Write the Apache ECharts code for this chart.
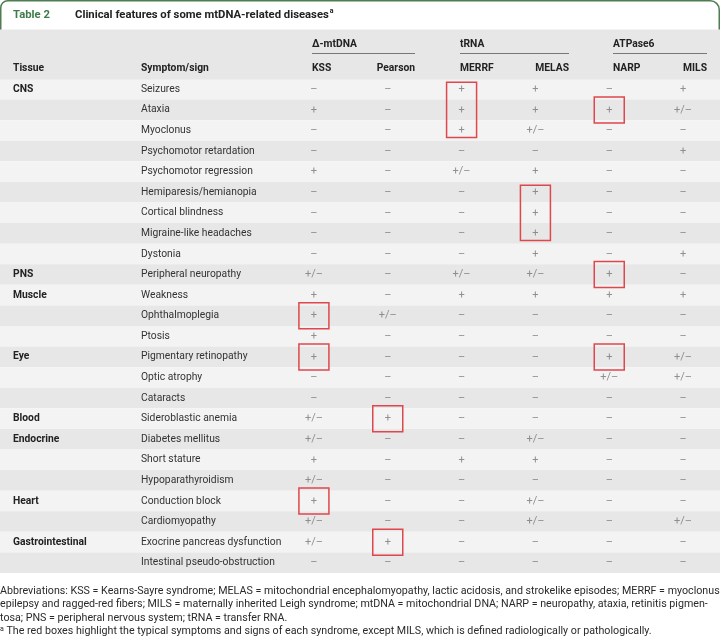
<!DOCTYPE html>
<html>
<head>
<meta charset="utf-8">
<script src="https://cdn.jsdelivr.net/npm/echarts@6/dist/echarts.min.js"></script>
<style>html,body{margin:0;padding:0;background:#fff}#c{width:720px;height:636px}</style>
</head>
<body>
<div id="c"></div>
<script>
// ---------- data ----------
var tissues = ['CNS','','','','','','','','','PNS','Muscle','','','Eye','','','Blood','Endocrine','','','Heart','','Gastrointestinal',''];
var symptoms = ['Seizures','Ataxia','Myoclonus','Psychomotor retardation','Psychomotor regression','Hemiparesis/hemianopia','Cortical blindness','Migraine-like headaches','Dystonia','Peripheral neuropathy','Weakness','Ophthalmoplegia','Ptosis','Pigmentary retinopathy','Optic atrophy','Cataracts','Sideroblastic anemia','Diabetes mellitus','Short stature','Hypoparathyroidism','Conduction block','Cardiomyopathy','Exocrine pancreas dysfunction','Intestinal pseudo-obstruction'];
var diseases = ['KSS','Pearson','MERRF','MELAS','NARP','MILS'];
var groups = ['Δ-mtDNA','tRNA','ATPase6'];
var P = '+', M = '–', PM = '+/–';
var kss     = [M,P,M,M,P,M,M,M,M,PM,P,P,P,P,M,M,PM,PM,P,PM,P,PM,PM,M];
var pearson = [M,M,M,M,M,M,M,M,M,M,M,PM,M,M,M,M,P,M,M,M,M,M,P,M];
var merrf   = [P,P,P,M,PM,M,M,M,M,PM,P,M,M,M,M,M,M,M,P,M,M,M,M,M];
var melas   = [P,P,PM,M,P,P,P,P,P,PM,P,M,M,M,M,M,M,PM,P,M,PM,PM,M,M];
var narp    = [M,P,M,M,M,M,M,M,M,P,P,M,M,P,PM,M,M,M,M,M,M,M,M,M];
var mils    = [P,PM,M,P,M,M,M,M,P,M,P,M,M,PM,PM,M,M,M,M,M,M,PM,M,M];
// highlighted boxes: [column index, first row, last row]
var boxes = [[2,0,2],[4,1,1],[3,5,7],[4,9,9],[0,11,11],[0,13,13],[4,13,13],[1,16,16],[0,20,20],[1,22,22]];
var footnotes = [
  'Abbreviations: KSS = Kearns-Sayre syndrome; MELAS = mitochondrial encephalomyopathy, lactic acidosis, and strokelike episodes; MERRF = myoclonus',
  'epilepsy and ragged-red fibers; MILS = maternally inherited Leigh syndrome; mtDNA = mitochondrial DNA; NARP = neuropathy, ataxia, retinitis pigmen-',
  'tosa; PNS = peripheral nervous system; tRNA = transfer RNA.',
  '{sup|a} The red boxes highlight the typical symptoms and signs of each syndrome, except MILS, which is defined radiologically or pathologically.'
];

// ---------- build ----------
var FONT = 'Roboto';
var cols = [kss, pearson, merrf, melas, narp, mils];
var cells = [];
cols.forEach(function (arr, ci) {
  arr.forEach(function (v, ri) { cells.push([ci, ri, v]); });
});

var TOP = 79, BOTTOM = 63;
var chart = echarts.init(document.getElementById('c'), null, {renderer: 'canvas'});

var hdrY1 = 44, hdrY2 = 68;
var headerText = [
  {x: 13, t: 'Tissue', a: 'left'},
  {x: 141, t: 'Symptom/sign', a: 'left'},
  {x: 312, t: diseases[0], a: 'left'},
  {x: 415, t: diseases[1], a: 'right'},
  {x: 460, t: diseases[2], a: 'left'},
  {x: 569, t: diseases[3], a: 'right'},
  {x: 613, t: diseases[4], a: 'left'},
  {x: 707, t: diseases[5], a: 'right'}
];
var groupPos = [[312, 415], [460, 569], [613, 707]];

var graphics = [
  {type: 'rect', z: 0, shape: {x: 0.75, y: 0.75, width: 718.5, height: 60, r: [7, 9, 0, 0]},
   style: {fill: '#fff', stroke: '#4f7d52', lineWidth: 1.5}},
  {type: 'rect', z: 1, shape: {x: 0, y: 29.5, width: 720, height: 50}, style: {fill: '#e7e7e7'}},
  {type: 'text', z: 2, x: 13, y: 15, style: {text: 'Table 2', font: 'bold 11.3px ' + FONT, fill: '#3f7b4a', verticalAlign: 'middle'}},
  {type: 'text', z: 2, x: 75, y: 15, style: {text: 'Clinical features of some mtDNA-related diseases{sup|a}', font: 'bold 11.3px ' + FONT, fill: '#222', verticalAlign: 'middle',
    rich: {sup: {fontSize: 7, fontFamily: FONT, fontWeight: 'bold', fill: '#222', verticalAlign: 'top', padding: [0,0,7,1]}}}}
];
headerText.forEach(function (h) {
  graphics.push({type: 'text', z: 2, x: h.x, y: hdrY2, style: {text: h.t, font: 'bold 10.3px ' + FONT, fill: '#222', align: h.a, verticalAlign: 'middle'}});
});
groups.forEach(function (g, i) {
  graphics.push({type: 'text', z: 2, x: groupPos[i][0], y: hdrY1, style: {text: g, font: 'bold 10.3px ' + FONT, fill: '#222', verticalAlign: 'middle'}});
  graphics.push({type: 'line', z: 2, shape: {x1: groupPos[i][0], y1: 53.5, x2: groupPos[i][1], y2: 53.5}, style: {stroke: '#777', lineWidth: 1}});
});
footnotes.forEach(function (f, i) {
  graphics.push({type: 'text', z: 2, x: 0, y: 591 + i * 13.6, style: {text: f, font: '10.7px ' + FONT, fill: '#2a2a2a', verticalAlign: 'middle',
    rich: {sup: {fontSize: 7, fontFamily: FONT, fill: '#2a2a2a', verticalAlign: 'top', padding: [0,0,6,0]}}}});
});

chart.setOption({
  animation: false,
  backgroundColor: '#fff',
  textStyle: {fontFamily: FONT},
  grid: [
    {left: 0, right: 0, top: TOP, bottom: BOTTOM},
    {left: 277, width: 450, top: TOP, bottom: BOTTOM}
  ],
  xAxis: [
    {type: 'value', gridIndex: 0, show: false, min: 0, max: 1},
    {type: 'category', gridIndex: 1, data: diseases, show: false}
  ],
  yAxis: [
    {type: 'category', gridIndex: 0, position: 'left', data: symptoms, inverse: true,
     axisLine: {show: false}, axisTick: {show: false}, splitLine: {show: false},
     splitArea: {show: true, areaStyle: {color: ['#f3f3f3', '#e7e7e7']}},
     axisLabel: {inside: true, margin: 141, color: '#333', fontSize: 10.3, fontFamily: FONT}},
    {type: 'category', gridIndex: 0, position: 'left', data: symptoms, inverse: true,
     axisLine: {show: false}, axisTick: {show: false}, splitLine: {show: false},
     axisLabel: {inside: true, margin: 13, color: '#222', fontSize: 10.3, fontWeight: 'bold', fontFamily: FONT,
       formatter: function (v, i) { return tissues[i]; }}},
    {type: 'category', gridIndex: 1, data: symptoms, inverse: true, show: false}
  ],
  graphic: graphics,
  series: [
    {type: 'scatter', xAxisIndex: 1, yAxisIndex: 2, data: cells, symbolSize: 1,
     itemStyle: {color: 'rgba(0,0,0,0)'}, silent: true, z: 3,
     label: {show: true, position: 'inside', formatter: function (p) { return p.value[2]; },
       color: '#777', fontSize: 11, fontFamily: FONT}},
    {type: 'custom', xAxisIndex: 1, yAxisIndex: 2, data: boxes, z: 4, silent: true,
     encode: {x: 0, y: [1, 2]},
     renderItem: function (params, api) {
       var c0 = api.coord([api.value(0), api.value(1)]);
       var c1 = api.coord([api.value(0), api.value(2)]);
       var pad = api.value(1) === api.value(2) ? 13 : 7;
       return {type: 'rect', shape: {x: c0[0] - 15, y: c0[1] - pad, width: 30, height: c1[1] - c0[1] + 2 * pad},
         style: {fill: 'none', stroke: '#e0474c', lineWidth: 1.5}};
     }}
  ]
});
</script>
</body>
</html>
